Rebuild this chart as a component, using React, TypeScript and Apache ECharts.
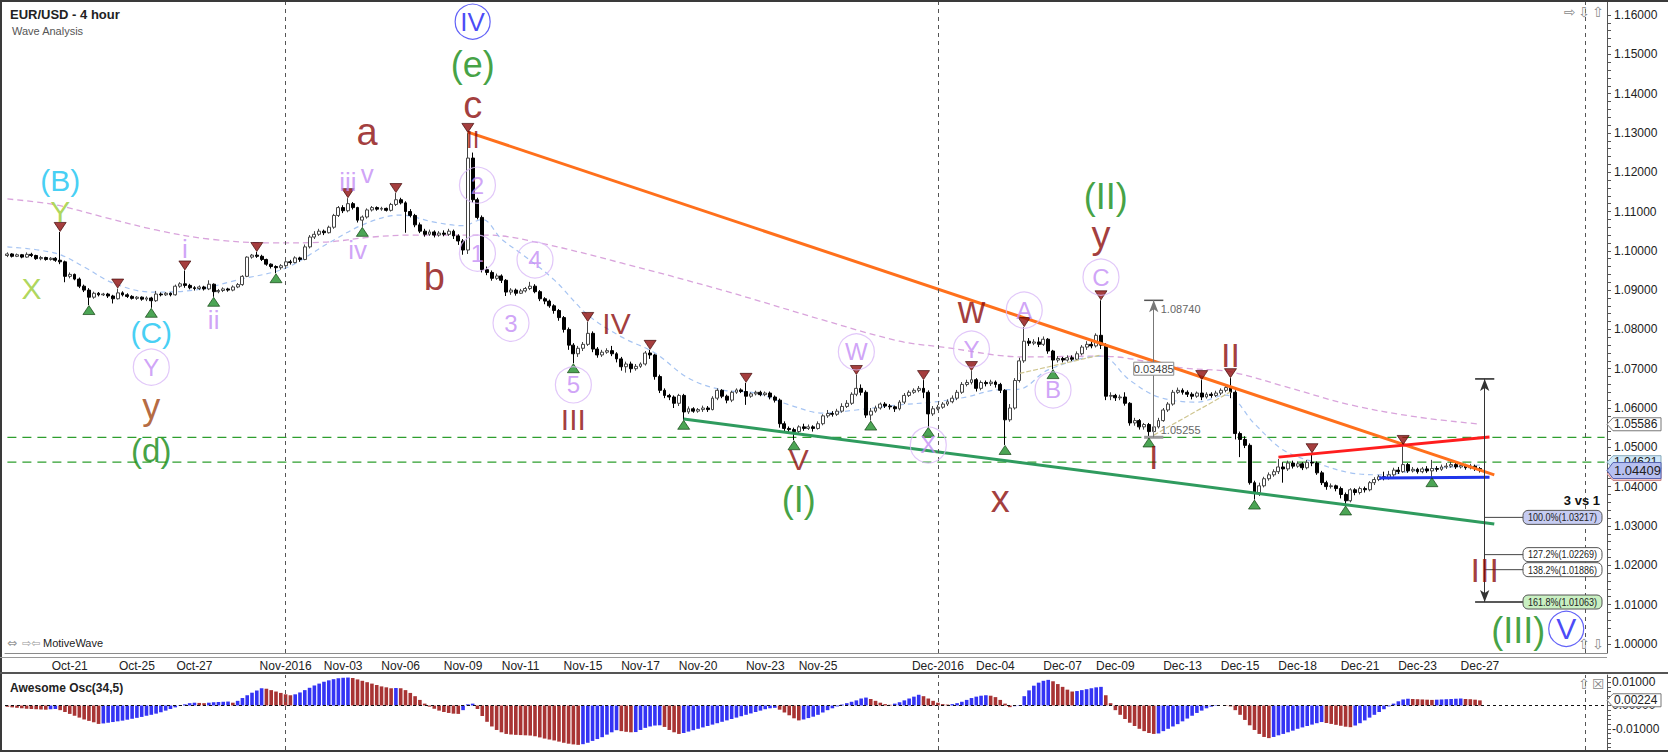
import React, { useEffect, useRef } from "react";
import * as echarts from "echarts";

const FONT = '"Liberation Sans", Arial, sans-serif';
const SLOTS = 334;

const tickIdx = [13, 27, 39, 58, 70, 82, 95, 107, 120, 132, 144, 158, 169, 194, 206, 220, 231, 245, 257, 269, 282, 294, 307];
const tickLabels = ["Oct-21", "Oct-25", "Oct-27", "Nov-2016", "Nov-03", "Nov-06", "Nov-09", "Nov-11", "Nov-15", "Nov-17", "Nov-20", "Nov-23", "Nov-25", "Dec-2016", "Dec-04", "Dec-07", "Dec-09", "Dec-13", "Dec-15", "Dec-18", "Dec-21", "Dec-23", "Dec-27"];
const dividerIdx = [58, 194, 329];
const priceTickLabels = [1.0, 1.01, 1.02, 1.03, 1.04, 1.05, 1.06, 1.07, 1.08, 1.09, 1.1, 1.11, 1.12, 1.13, 1.14, 1.15, 1.16];
const oscTickLabels = [0.01, 0, -0.01];

// 4-hour candles, [open, close, low, high] in pips above 1.0000
const ohlcPips: number[][] = [
  [988, 992, 984, 996], [992, 986, 983, 994], [986, 990, 984, 993], [990, 984, 981, 992], [984, 991, 982, 996],
  [991, 988, 984, 995], [988, 980, 977, 990], [980, 983, 976, 987], [983, 978, 975, 985], [978, 981, 975, 984],
  [981, 976, 972, 984], [976, 972, 966, 1048], [972, 935, 920, 975], [935, 940, 930, 945], [940, 928, 925, 942],
  [928, 910, 905, 932], [910, 900, 895, 914], [900, 882, 862, 905], [882, 892, 878, 896], [892, 888, 884, 895],
  [888, 890, 885, 893], [890, 885, 880, 893], [885, 878, 866, 888], [878, 893, 876, 904], [893, 888, 884, 897],
  [888, 884, 880, 892], [884, 879, 876, 887], [879, 882, 875, 885], [882, 877, 873, 884], [877, 880, 872, 884],
  [880, 873, 855, 883], [873, 890, 870, 898], [890, 888, 884, 894], [888, 892, 885, 895], [892, 888, 884, 894],
  [888, 910, 886, 914], [910, 916, 906, 920], [916, 912, 906, 950], [912, 906, 902, 916], [906, 904, 899, 910],
  [904, 908, 900, 912], [908, 903, 899, 911], [903, 915, 900, 925], [915, 896, 883, 917], [896, 899, 892, 903],
  [899, 903, 895, 907], [903, 900, 896, 906], [900, 908, 897, 912], [908, 914, 905, 918], [914, 935, 911, 938],
  [935, 984, 933, 986], [984, 989, 980, 992], [989, 986, 982, 997], [986, 978, 974, 990], [978, 966, 962, 980],
  [966, 960, 955, 968], [960, 957, 943, 963], [957, 962, 952, 966], [962, 972, 960, 976], [972, 970, 965, 977],
  [970, 982, 968, 986], [982, 978, 972, 985], [978, 1010, 976, 1016], [1010, 1035, 1006, 1040], [1035, 1042, 1030, 1050],
  [1042, 1050, 1038, 1056], [1050, 1046, 1040, 1054], [1046, 1060, 1044, 1064], [1060, 1090, 1056, 1094], [1090, 1110, 1086, 1114],
  [1110, 1102, 1096, 1116], [1102, 1120, 1098, 1134], [1120, 1110, 1105, 1124], [1110, 1078, 1072, 1112], [1078, 1086, 1061, 1090],
  [1086, 1104, 1082, 1108], [1104, 1110, 1100, 1114], [1110, 1106, 1102, 1113], [1106, 1108, 1102, 1112], [1108, 1103, 1100, 1110],
  [1103, 1118, 1100, 1122], [1118, 1130, 1114, 1147], [1130, 1122, 1118, 1135], [1122, 1100, 1046, 1126], [1100, 1090, 1085, 1106],
  [1090, 1066, 1060, 1094], [1066, 1050, 1045, 1072], [1050, 1042, 1036, 1056], [1042, 1048, 1038, 1054], [1048, 1040, 1034, 1052],
  [1040, 1045, 1036, 1050], [1045, 1042, 1037, 1052], [1042, 1050, 1038, 1056], [1050, 1038, 1030, 1054], [1038, 1025, 1015, 1042],
  [1025, 1002, 990, 1030], [1002, 1236, 992, 1300], [1236, 1130, 1122, 1250], [1130, 1085, 1080, 1135], [1085, 952, 945, 1090],
  [952, 945, 938, 960], [945, 930, 924, 950], [930, 936, 926, 942], [936, 925, 918, 940], [925, 895, 885, 928],
  [895, 900, 888, 905], [900, 892, 886, 904], [892, 898, 890, 903], [898, 904, 894, 908], [904, 910, 900, 921],
  [910, 896, 892, 915], [896, 878, 872, 900], [878, 872, 864, 882], [872, 860, 855, 876], [860, 848, 840, 864],
  [848, 830, 822, 852], [830, 800, 792, 834], [800, 760, 748, 805], [760, 738, 714, 765], [738, 752, 730, 758],
  [752, 762, 745, 768], [762, 790, 758, 819], [790, 750, 742, 795], [750, 735, 728, 755], [735, 742, 730, 748],
  [742, 746, 738, 752], [746, 738, 732, 758], [738, 725, 716, 742], [725, 705, 695, 730], [705, 712, 690, 718],
  [712, 700, 690, 718], [700, 706, 695, 712], [706, 712, 702, 716], [712, 740, 708, 745], [740, 735, 725, 748],
  [735, 680, 672, 738], [680, 645, 638, 685], [645, 632, 625, 650], [632, 628, 620, 636], [628, 612, 600, 632],
  [612, 632, 605, 636], [632, 590, 570, 636], [590, 598, 585, 604], [598, 592, 588, 602], [592, 596, 588, 600],
  [596, 600, 590, 606], [600, 596, 590, 605], [596, 625, 594, 630], [625, 645, 620, 650], [645, 630, 625, 648],
  [630, 620, 612, 634], [620, 640, 615, 644], [640, 646, 636, 650], [646, 642, 638, 650], [642, 630, 608, 664],
  [630, 636, 626, 640], [636, 640, 632, 644], [640, 634, 630, 644], [634, 638, 630, 642], [638, 628, 622, 642],
  [628, 620, 614, 632], [620, 560, 550, 624], [560, 548, 540, 566], [548, 545, 535, 553], [545, 540, 518, 550],
  [540, 552, 535, 556], [552, 548, 542, 560], [548, 552, 544, 558], [552, 548, 540, 556], [548, 560, 545, 566],
  [560, 580, 556, 584], [580, 586, 575, 595], [586, 584, 578, 592], [584, 592, 580, 598], [592, 604, 588, 612],
  [604, 612, 600, 620], [612, 635, 608, 640], [635, 650, 630, 684], [650, 640, 632, 660], [640, 582, 575, 645],
  [582, 592, 568, 600], [592, 600, 588, 606], [600, 610, 596, 614], [610, 605, 600, 615], [605, 603, 596, 610],
  [603, 598, 590, 606], [598, 615, 594, 620], [615, 632, 610, 638], [632, 640, 628, 645], [640, 645, 636, 650],
  [645, 650, 640, 656], [650, 640, 625, 671], [640, 585, 552, 645], [585, 598, 580, 605], [598, 602, 594, 608],
  [602, 610, 598, 615], [610, 616, 605, 622], [616, 625, 612, 632], [625, 640, 620, 646], [640, 660, 636, 666],
  [660, 665, 655, 672], [665, 672, 660, 694], [672, 650, 642, 676], [650, 665, 645, 670], [665, 662, 655, 670],
  [662, 666, 656, 672], [666, 660, 652, 670], [660, 645, 638, 664], [645, 570, 506, 648], [570, 600, 565, 610],
  [600, 670, 596, 676], [670, 720, 665, 728], [720, 770, 715, 806], [770, 765, 758, 778], [765, 768, 760, 775],
  [768, 762, 755, 780], [762, 775, 758, 782], [775, 745, 738, 778], [745, 722, 699, 748], [722, 726, 716, 732],
  [726, 722, 716, 730], [722, 728, 718, 734], [728, 724, 718, 734], [724, 738, 720, 744], [738, 755, 734, 760],
  [755, 762, 748, 770], [762, 758, 752, 772], [758, 785, 754, 790], [785, 760, 750, 874], [760, 630, 620, 765],
  [630, 632, 620, 640], [632, 626, 618, 636], [626, 628, 620, 634], [628, 612, 606, 640], [612, 562, 555, 615],
  [562, 568, 555, 575], [568, 552, 545, 572], [552, 558, 545, 562], [558, 540, 525, 562], [540, 552, 532, 560],
  [552, 568, 548, 575], [568, 595, 565, 600], [595, 610, 590, 615], [610, 640, 606, 646], [640, 645, 636, 652],
  [645, 640, 634, 650], [640, 635, 628, 645], [635, 630, 622, 640], [630, 638, 626, 642], [638, 628, 620, 671],
  [628, 635, 624, 640], [635, 632, 626, 640], [632, 638, 628, 644], [638, 645, 633, 650], [645, 652, 640, 658],
  [652, 640, 625, 676], [640, 535, 520, 645], [535, 520, 475, 540], [520, 505, 498, 528], [505, 410, 405, 510],
  [410, 385, 367, 415], [385, 402, 376, 410], [402, 420, 398, 425], [420, 430, 415, 436], [430, 438, 425, 444],
  [438, 450, 432, 470], [450, 445, 410, 462], [445, 460, 440, 466], [460, 452, 446, 466], [452, 458, 448, 464],
  [458, 448, 442, 462], [448, 462, 444, 468], [462, 460, 452, 485], [460, 435, 430, 464], [435, 410, 404, 440],
  [410, 400, 392, 415], [400, 402, 395, 408], [402, 395, 388, 405], [395, 380, 370, 400], [380, 364, 352, 385],
  [364, 392, 360, 396], [392, 385, 378, 396], [385, 395, 380, 400], [395, 392, 385, 400], [392, 410, 388, 414],
  [410, 418, 404, 424], [418, 425, 414, 430], [425, 422, 416, 438], [422, 430, 418, 440], [430, 442, 425, 448],
  [442, 438, 432, 450], [438, 456, 435, 506], [456, 440, 435, 460], [440, 444, 436, 450], [444, 438, 433, 448],
  [438, 445, 434, 450], [445, 440, 435, 452], [440, 446, 424, 468], [446, 444, 438, 452], [444, 450, 440, 456],
  [450, 452, 445, 460], [452, 456, 448, 464], [456, 450, 445, 462], [450, 454, 446, 460], [454, 448, 443, 458],
  [448, 452, 444, 458], [452, 446, 440, 456], [446, 441, 436, 450],
];

// Awesome Oscillator values, in units of 0.0001
const aoValues = [
  -5, -8, -10, -12, -14, -15, -16, -17, -18, -16,
  -15, -20, -28, -36, -44, -52, -60, -66, -72, -79,
  -77, -74, -71, -68, -65, -61, -57, -53, -49, -44,
  -40, -35, -29, -22, -15, -8, -2, 5, 10, 12,
  11, 10, 12, 14, 15, 16, 17, 12, 20, 32,
  44, 55, 64, 74, 72, 66, 60, 54, 48, 44,
  48, 56, 66, 76, 86, 94, 102, 108, 113, 117,
  119, 120, 118, 112, 106, 100, 94, 88, 82, 78,
  74, 75, 74, 66, 54, 40, 24, 8, -5, -14,
  -22, -28, -32, -35, -36, -20, 5, 8, -15, -45,
  -70, -90, -105, -115, -122, -125, -126, -127, -128, -129,
  -132, -137, -142, -146, -150, -155, -160, -164, -167, -169,
  -166, -160, -152, -144, -136, -125, -115, -106, -110, -113,
  -115, -114, -105, -96, -90, -86, -85, -92, -105, -115,
  -122, -118, -112, -106, -100, -94, -88, -82, -76, -70,
  -64, -58, -52, -46, -40, -34, -28, -22, -16, -12,
  -10, -18, -30, -42, -55, -64, -60, -54, -48, -40,
  -30, -20, -12, -4, 4, 10, 16, 22, 30, 34,
  28, 20, 12, 6, 3, 8, 14, 22, 30, 38,
  46, 40, 30, 20, 12, 6, 4, 6, 10, 16,
  24, 32, 38, 42, 44, 42, 36, 24, 8, -7,
  -3, 2, 40, 65, 85, 98, 106, 110, 104, 92,
  80, 68, 60, 62, 66, 70, 74, 78, 80, 44,
  10, -20, -40, -58, -74, -88, -100, -110, -118, -122,
  -120, -110, -100, -90, -80, -68, -56, -44, -32, -22,
  -12, -5, -2, 0, -2, -4, -20, -40, -62, -85,
  -105, -122, -135, -140, -135, -128, -122, -115, -108, -100,
  -94, -88, -82, -76, -71, -75, -79, -83, -87, -91,
  -93, -86, -76, -64, -52, -40, -28, -16, -4, 8,
  18, 26, 29, 28, 27, 26, 25, 24, 25, 26,
  27, 28, 29, 30, 28, 27, 25, 22,
];

// moving averages: [bar index, price]
const pinkMA = [
  [0, 1.1132], [10, 1.1117], [20, 1.1086], [31, 1.1053], [42, 1.103], [55, 1.102], [66, 1.1022], [76, 1.1035],
  [84, 1.104], [100, 1.104], [111, 1.102], [128, 1.0969], [149, 1.09], [170, 1.0824], [186, 1.077], [195, 1.0755],
  [212, 1.073], [228, 1.0732], [245, 1.0702], [255, 1.0692], [266, 1.0656], [280, 1.0608], [294, 1.0577], [307, 1.0559],
];
const blueMA = [
  [0, 1.101], [10, 1.0994], [16, 1.0959], [22, 1.0918], [30, 1.0895], [39, 1.09], [48, 1.0926], [58, 1.0956],
  [67, 1.102], [75, 1.1071], [82, 1.1091], [89, 1.1073], [95, 1.1064], [99, 1.108], [103, 1.103], [107, 1.0994],
  [114, 1.0926], [121, 1.0837], [128, 1.0781], [135, 1.074], [142, 1.0676], [149, 1.0646], [156, 1.0638], [163, 1.0608],
  [170, 1.0587], [177, 1.0595], [186, 1.0608], [193, 1.0615], [200, 1.0628], [206, 1.0646], [211, 1.0648], [217, 1.0697],
  [228, 1.0732], [234, 1.0671], [240, 1.0628], [248, 1.0615], [254, 1.0633], [260, 1.056], [266, 1.0493], [273, 1.046],
  [280, 1.0435], [287, 1.043], [294, 1.0442], [307, 1.0455],
];

const highMarkIdx = [11, 23, 37, 52, 71, 81, 96, 121, 134, 154, 177, 191, 201, 212, 228, 249, 255, 272, 291];
const lowMarkIdx = [17, 30, 43, 56, 74, 118, 141, 164, 180, 192, 208, 218, 238, 260, 279, 297];

const supportLevels = [1.05255, 1.04621];
const orangeLine = [[96, 1.1302], [310, 1.043]];
const greenLine = [[141, 1.0572], [310, 1.0305]];
const redLine = [[265, 1.0475], [309, 1.0526]];
const blueLine = [[286, 1.0422], [309, 1.0424]];
const khakiLineA = [[211, 1.0688], [228, 1.0735]];
const khakiLineB = [[239, 1.0531], [255, 1.0641]];

const measureA = { idx: 308, top: 1.0674, bottom: 1.01063 };
const measureB = { idx: 239, top: 1.0874, bottom: 1.05255, diff: "0.03485" };
const fibLevels = [1.03217, 1.02269, 1.01886, 1.01063];
const fibNames = ["100.0%", "127.2%", "138.2%", "161.8%"];
const fibBoxIdx = 317;

const lastClose = 1.04409;
const pinkLast = 1.05586;
const blueLast = 1.04621;
const hiddenTag = 1.0432;
const aoLast = 0.00224;

// wave labels: [text, bar index, price, style]
const annotations: [string, number, number, string][] = [
  ["(B)", 11, 1.118, "cyan"], ["Y", 11, 1.1099, "yg"], ["X", 5, 1.0904, "yg"], ["(C)", 30, 1.0793, "cyan"],
  ["Y", 30, 1.0704, "lavC"], ["y", 30, 1.0603, "brown"], ["(d)", 30, 1.0493, "greenS"],
  ["i", 37, 1.1005, "lav"], ["ii", 43, 1.0823, "lav"], ["iii", 71, 1.1176, "lav"], ["v", 75, 1.1196, "lav"], ["iv", 73, 1.1001, "lav"],
  ["a", 75, 1.1303, "drL"], ["b", 89, 1.0933, "drL"], ["c", 97, 1.1371, "drL"], ["II", 97, 1.1282, "drS"],
  ["(e)", 97, 1.1473, "green"], ["IV", 97, 1.1583, "blueC"],
  ["2", 98, 1.1167, "lavC"], ["1", 98, 1.0994, "lavC"], ["4", 110, 1.0977, "lavC"], ["3", 105, 1.0816, "lavC"], ["5", 118, 1.0659, "lavC"],
  ["III", 118, 1.057, "drM"], ["IV", 127, 1.0816, "drM"], ["W", 177, 1.0743, "lavC"], ["V", 165, 1.0468, "drM"], ["(I)", 165, 1.0366, "green"],
  ["X", 192, 1.0506, "lavC"], ["w", 201, 1.085, "drL"], ["Y", 201, 1.075, "lavC"], ["x", 207, 1.0369, "drL"],
  ["A", 212, 1.0849, "lavC"], ["B", 218, 1.0646, "lavC"], ["C", 228, 1.0933, "lavC"], ["y", 228, 1.1039, "drL"],
  ["(II)", 229, 1.1137, "green"], ["I", 239, 1.0475, "drB"], ["II", 255, 1.0735, "drB"], ["III", 308, 1.0188, "drB"],
  ["(III)", 315, 1.0035, "green"], ["V", 325, 1.0038, "blueCL"],
];

const labelStyles: Record<string, any> = {
  cyan: { color: "#16C3F2", size: 30 },
  yg: { color: "#9ACD32", size: 30 },
  lav: { color: "#C48DF5", size: 26 },
  lavC: { color: "#C48DF5", size: 24, circle: "#D9B9F8", d: 36 },
  brown: { color: "#A2440F", size: 36 },
  green: { color: "#138A13", size: 36 },
  greenS: { color: "#138A13", size: 33 },
  drL: { color: "#8B0A0A", size: 38 },
  drM: { color: "#8B0A0A", size: 30 },
  drB: { color: "#8B0A0A", size: 34 },
  drS: { color: "#8B0A0A", size: 24 },
  blueC: { color: "#1A1AF5", size: 26, circle: "#3B3BF5", d: 35 },
  blueCL: { color: "#1A1AF5", size: 30, circle: "#3B3BF5", d: 35 },
};

const P = (v: number) => +(1 + v / 10000).toFixed(4);

export default function App() {
  const ref = useRef<HTMLDivElement>(null);

  useEffect(() => {
    document.body.style.margin = "0";
    const el = ref.current!;
    const chart = echarts.init(el, null, { renderer: "svg", width: 1668, height: 752 });

    const categories = Array.from({ length: SLOTS }, (_, i) => {
      const k = tickIdx.indexOf(i);
      return k >= 0 ? tickLabels[k] : `s${i}`;
    });
    const isTick = (i: number) => tickIdx.indexOf(i) >= 0;
    const candleData = ohlcPips.map((r) => r.map(P));
    const priceMinor = Array.from({ length: 81 }, (_, k) => +(1 + k * 0.002).toFixed(3));
    const oscMinor = Array.from({ length: 16 }, (_, k) => +(-0.018 + k * 0.002).toFixed(3));

    const seg = (data: number[][], color: string, width: number, type: any = "solid", z = 4) => ({
      type: "line",
      data,
      symbol: "none",
      silent: true,
      lineStyle: { color, width, type },
      z,
    });

    const aoData = aoValues.map((v, i) => ({
      value: v / 10000,
      itemStyle: { color: i > 0 && v >= aoValues[i - 1] ? "#3434F4" : "#A83434" },
    }));

    const annData = annotations.map(([text, idx, price, kind]) => {
      const s = labelStyles[kind];
      return {
        value: [idx, price],
        symbol: "circle",
        symbolSize: s.circle ? s.d : 1,
        itemStyle: s.circle
          ? { color: "rgba(255,255,255,0)", borderColor: s.circle, borderWidth: 1.2 }
          : { color: "rgba(255,255,255,0)", borderWidth: 0 },
        label: {
          show: true,
          position: "inside",
          formatter: text,
          color: s.color,
          fontSize: s.size,
          fontFamily: FONT,
        },
      };
    });

    const vLine = (i: number) => ({ xAxis: categories[i], lineStyle: { color: "#555", type: [4, 4], width: 1 } });

    const option: any = {
      animation: false,
      backgroundColor: "#ffffff",
      textStyle: { fontFamily: FONT },
      grid: [
        { left: 5, top: 0, width: 1602, height: 653 },
        { left: 5, top: 675, width: 1602, height: 75 },
      ],
      xAxis: [
        {
          type: "category",
          gridIndex: 0,
          data: categories,
          axisLine: { onZero: false, lineStyle: { color: "#8a8a8a" } },
          axisTick: { interval: (i: number) => isTick(i), alignWithLabel: true, length: 4, lineStyle: { color: "#555" } },
          axisLabel: { interval: (i: number) => isTick(i), formatter: (v: string) => v, color: "#222", fontSize: 12, margin: 7, fontFamily: FONT },
          splitLine: { show: false },
        },
        {
          type: "category",
          gridIndex: 1,
          data: categories,
          axisLine: { show: false, onZero: false },
          axisTick: { show: false },
          axisLabel: { show: false },
          splitLine: { show: false },
        },
      ],
      yAxis: [
        {
          type: "value",
          gridIndex: 0,
          position: "right",
          min: 0.99766,
          max: 1.16382,
          axisLine: { show: true, lineStyle: { color: "#555" } },
          axisTick: { show: true, customValues: priceMinor, length: 4, lineStyle: { color: "#555" } },
          axisLabel: { customValues: priceTickLabels, formatter: (v: number) => v.toFixed(5), color: "#222", fontSize: 12, margin: 7, fontFamily: FONT },
          splitLine: { show: false },
        },
        {
          type: "value",
          gridIndex: 1,
          position: "right",
          min: -0.0191,
          max: 0.01309,
          axisLine: { show: true, lineStyle: { color: "#555" } },
          axisTick: { show: true, customValues: oscMinor, length: 4, lineStyle: { color: "#555" } },
          axisLabel: { customValues: oscTickLabels, formatter: (v: number) => v.toFixed(5), color: "#222", fontSize: 12, margin: 5, fontFamily: FONT },
          splitLine: { show: false },
        },
      ],
      series: [
        {
          type: "candlestick",
          name: "EUR/USD",
          xAxisIndex: 0,
          yAxisIndex: 0,
          data: candleData,
          barWidth: 3.4,
          itemStyle: { color: "#ffffff", color0: "#000000", borderColor: "#444444", borderColor0: "#000000", borderWidth: 1 },
          z: 3,
          markLine: {
            silent: true,
            symbol: ["none", "none"],
            label: { show: false },
            animation: false,
            data: [
              ...dividerIdx.map(vLine),
              [
                { coord: [categories[measureA.idx], measureA.top], symbol: "arrow", symbolSize: [7, 12] },
                { coord: [categories[measureA.idx], measureA.bottom], symbol: "arrow", symbolSize: [7, 12], lineStyle: { color: "#333", width: 1, type: "solid" } },
              ],
              [
                { coord: [categories[measureB.idx], measureB.bottom], symbol: "none" },
                { coord: [categories[measureB.idx], measureB.top], symbol: "arrow", symbolSize: [7, 12], lineStyle: { color: "#777", width: 1, type: "solid" } },
              ],
            ],
          },
        },
        ...supportLevels.map((p) => seg([[0, p], [SLOTS - 1, p]], "#2E9E2E", 1.2, [9, 6], 1)),
        { type: "line", data: pinkMA, smooth: 0.35, symbol: "none", silent: true, lineStyle: { color: "#D9A4DC", width: 1.3, type: [6, 4] }, z: 2 },
        { type: "line", data: blueMA, smooth: 0.35, symbol: "none", silent: true, lineStyle: { color: "#A6C4F2", width: 1.2, type: [5, 4] }, z: 2 },
        seg(khakiLineA, "#CFC690", 1.2, [5, 2]),
        seg(khakiLineB, "#CFC690", 1.2, [5, 2]),
        seg(orangeLine, "#FF701C", 3),
        seg(greenLine, "#2F9B5E", 3),
        seg(redLine, "#FF1E1E", 3),
        seg(blueLine, "#1F35EA", 3),
        seg([[measureA.idx - 2, measureA.top], [measureA.idx + 2, measureA.top]], "#222", 1.5),
        seg([[measureA.idx - 2, measureA.bottom], [fibBoxIdx, measureA.bottom]], "#222", 1.5),
        ...fibLevels.slice(0, 3).map((p) => seg([[measureA.idx, p], [fibBoxIdx, p]], "#444", 1)),
        seg([[measureB.idx - 2, measureB.top], [measureB.idx + 2, measureB.top]], "#555", 1.5),
        seg([[measureB.idx - 2, measureB.bottom], [measureB.idx + 2, measureB.bottom]], "#999", 3),
        {
          type: "scatter",
          data: highMarkIdx.map((i) => [i, candleData[i][3]]),
          symbol: "triangle",
          symbolRotate: 180,
          symbolSize: [12, 9],
          symbolOffset: [0, -5],
          silent: true,
          itemStyle: { color: "#8E0E0E", borderColor: "#3a0000", borderWidth: 0.8 },
          z: 5,
        },
        {
          type: "scatter",
          data: lowMarkIdx.map((i) => [i, candleData[i][2]]),
          symbol: "triangle",
          symbolSize: [12, 9],
          symbolOffset: [0, 5],
          silent: true,
          itemStyle: { color: "#1F8F2A", borderColor: "#0a3a0a", borderWidth: 0.8 },
          z: 5,
        },
        { type: "scatter", data: annData, silent: true, z: 6 },
        {
          type: "bar",
          xAxisIndex: 1,
          yAxisIndex: 1,
          data: aoData,
          barWidth: 3.6,
          silent: true,
          markLine: {
            silent: true,
            symbol: ["none", "none"],
            label: { show: false },
            animation: false,
            data: [
              ...dividerIdx.map(vLine),
              { yAxis: 0, lineStyle: { color: "#111", type: [3, 3], width: 1 } },
            ],
          },
        },
      ],
    };

    chart.setOption(option);

    const py = (p: number) => chart.convertToPixel({ yAxisIndex: 0 }, p) as number;
    const oy = (v: number) => chart.convertToPixel({ yAxisIndex: 1 }, v) as number;
    const px = (i: number) => (chart.convertToPixel({ xAxisIndex: 0 }, categories[i]) as number);

    const txt = (x: number, y: number, text: string, font: string, fill: string, align = "left", z = 100, scaleX = 1) => ({
      type: "text",
      x,
      y,
      z,
      scaleX,
      silent: true,
      style: { text, font, fill, textAlign: align, textVerticalAlign: "middle" },
    });
    const tag = (y: number, text: string, fill: string, stroke: string, h: number, fontPx: number, z: number) => [
      {
        type: "polygon",
        z,
        silent: true,
        shape: { points: [[1607, y], [1613, y - h / 2], [1661, y - h / 2], [1661, y + h / 2], [1613, y + h / 2]] },
        style: { fill, stroke, lineWidth: 1 },
      },
      txt(1614, y, text, `${fontPx}px ${FONT}`, "#222", "left", z + 1),
    ];

    const fibFills = ["#C6CCF2", "#FFFFFF", "#FFFFFF", "#C9F0C2"];
    const fibEls: any[] = [];
    fibLevels.forEach((p, k) => {
      const y = py(p);
      fibEls.push({
        type: "rect",
        z: 100,
        silent: true,
        shape: { x: 1523, y: y - 7, width: 79, height: 14, r: 5 },
        style: { fill: fibFills[k], stroke: "#555", lineWidth: 1 },
      });
      fibEls.push(txt(1562.5, y, `${fibNames[k]}(${p.toFixed(5)})`, `11px ${FONT}`, "#222", "center", 101, 0.82));
    });

    const mbx = px(measureB.idx);
    const iconFont = `14px "DejaVu Sans", sans-serif`;

    chart.setOption({
      graphic: [
        { type: "rect", silent: true, z: 90, shape: { x: 0, y: 0, width: 2, height: 752 }, style: { fill: "#3a3a3a" } },
        { type: "rect", silent: true, z: 90, shape: { x: 0, y: 0, width: 1668, height: 2 }, style: { fill: "#3a3a3a" } },
        { type: "rect", silent: true, z: 90, shape: { x: 0, y: 750, width: 1668, height: 2 }, style: { fill: "#3a3a3a" } },
        { type: "rect", silent: true, z: 90, shape: { x: 0, y: 672, width: 1668, height: 2 }, style: { fill: "#555" } },
        { type: "line", silent: true, z: 90, shape: { x1: 0, y1: 657.5, x2: 1607, y2: 657.5 }, style: { stroke: "#999", lineWidth: 1 } },
        txt(10, 14.5, "EUR/USD - 4 hour", `bold 13px ${FONT}`, "#222"),
        txt(12, 31, "Wave Analysis", `11px ${FONT}`, "#555"),
        txt(7, 643, "⇔", `12px "DejaVu Sans", sans-serif`, "#999"),
        txt(22, 643, "⇨⇦", `11px "DejaVu Sans", sans-serif`, "#999"),
        txt(43, 643, "MotiveWave", `11px ${FONT}`, "#222"),
        txt(10, 688, "Awesome Osc(34,5)", `bold 12px ${FONT}`, "#222"),
        txt(1564, 12, "⇨", iconFont, "#8a8a8a"),
        txt(1578, 12, "⇩", iconFont, "#8a8a8a"),
        txt(1592, 12, "⇧", iconFont, "#8a8a8a"),
        txt(1578, 644, "⇧", iconFont, "#8a8a8a"),
        txt(1592, 644, "⇩", iconFont, "#8a8a8a"),
        txt(1578, 684, "⇧", iconFont, "#8a8a8a"),
        txt(1592, 684, "☒", iconFont, "#8a8a8a"),
        txt(1600, 500, "3 vs 1", `bold 13px ${FONT}`, "#111", "right"),
        txt(mbx + 7, py(measureB.top) + 9, measureB.top.toFixed(5), `11px ${FONT}`, "#666"),
        txt(mbx + 7, py(measureB.bottom) - 7, measureB.bottom.toFixed(5), `11px ${FONT}`, "#666"),
        {
          type: "rect",
          z: 100,
          silent: true,
          shape: { x: mbx - 20, y: py(1.07) - 6.5, width: 40, height: 13 },
          style: { fill: "#ffffff", stroke: "#888", lineWidth: 1 },
        },
        txt(mbx, py(1.07), measureB.diff, `11px ${FONT}`, "#444", "center", 101),
        ...fibEls,
        ...tag(py(pinkLast), pinkLast.toFixed(5), "#ffffff", "#777", 13, 12, 102),
        ...tag(py(hiddenTag), hiddenTag.toFixed(5), "#F6C9C9", "#C88", 13, 12, 104),
        ...tag(py(blueLast), blueLast.toFixed(5), "#CFE7F8", "#8AB", 13, 12, 106),
        ...tag(py(lastClose), lastClose.toFixed(5), "#B7C0F0", "#5563B0", 16, 13, 108),
        ...tag(oy(aoLast), aoLast.toFixed(5), "#ffffff", "#777", 13, 12, 110),
      ],
    });

    return () => chart.dispose();
  }, []);

  return (
    <div
      ref={ref}
      style={{ position: "absolute", left: 0, top: 0, width: 1668, height: 752, background: "#fff" }}
    />
  );
}
